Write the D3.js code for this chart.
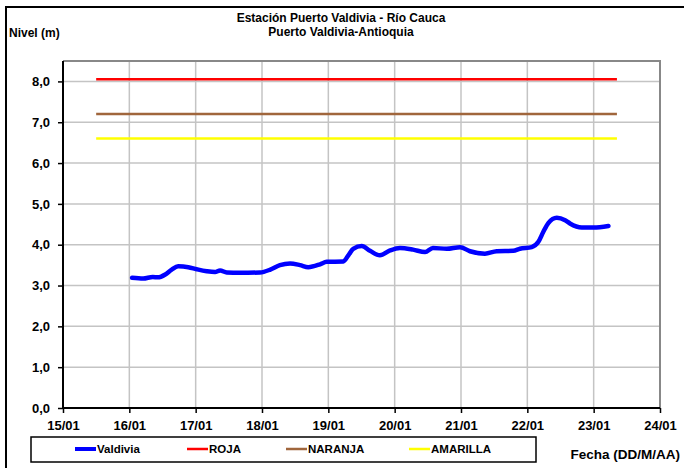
<!DOCTYPE html>
<html>
<head>
<meta charset="utf-8">
<script src="https://cdn.jsdelivr.net/npm/d3@7"></script>
<style>
  body { margin: 0; background: #fff; }
  svg { display: block; font-family: "Liberation Sans", Arial, sans-serif; font-weight: bold; }
</style>
</head>
<body>
<div id="chart"></div>
<script>
// Nivel del rio en Puerto Valdivia.
const fechas = [
  '16/01 01:00', '16/01 05:00', '16/01 08:30', '16/01 10:20', '16/01 13:00', '16/01 15:20',
  '16/01 17:40', '16/01 21:20', '17/01 00:20', '17/01 04:00', '17/01 07:00', '17/01 08:50',
  '17/01 11:15', '17/01 16:00', '17/01 23:15', '18/01 03:00', '18/01 06:30', '18/01 10:10',
  '18/01 13:45', '18/01 16:45', '18/01 21:00', '18/01 23:25', '19/01 05:25', '19/01 07:15',
  '19/01 09:00', '19/01 12:05', '19/01 15:05', '19/01 18:40', '19/01 22:20', '20/01 01:55',
  '20/01 06:40', '20/01 11:00', '20/01 13:50', '20/01 18:50', '20/01 23:40', '21/01 03:15',
  '21/01 08:40', '21/01 12:55', '21/01 18:55', '21/01 21:20', '22/01 01:35', '22/01 04:00',
  '22/01 05:45', '22/01 07:35', '22/01 10:40', '22/01 13:40', '22/01 15:25', '22/01 19:40',
  '22/01 23:55', '23/01 05:20'
];
const nivelValdivia = [
  3.19, 3.17, 3.21, 3.20, 3.27, 3.39,
  3.47, 3.45, 3.40, 3.35, 3.33, 3.37,
  3.32, 3.31, 3.32, 3.39, 3.50, 3.54,
  3.50, 3.45, 3.52, 3.58, 3.59, 3.74,
  3.90, 3.97, 3.85, 3.74, 3.86, 3.92,
  3.88, 3.82, 3.92, 3.90, 3.94, 3.84,
  3.78, 3.84, 3.85, 3.90, 3.94, 4.07,
  4.31, 4.53, 4.66, 4.60, 4.52, 4.42,
  4.42, 4.46
];

// Umbrales de alerta (lineas horizontales)
const alertas = ['ROJA', 'NARANJA', 'AMARILLA'];
const nivelAlerta = [8.05, 7.2, 6.6];
const alertaInicio = '15/01 12:00';
const alertaFin = '23/01 08:25';

const ticksX = ['15/01', '16/01', '17/01', '18/01', '19/01', '20/01', '21/01', '22/01', '23/01', '24/01'];
const ticksY = [0, 1, 2, 3, 4, 5, 6, 7, 8];

const leyenda = ['Valdivia', 'ROJA', 'NARANJA', 'AMARILLA'];
const colores = {Valdivia: '#0000ff', ROJA: '#ff0000', NARANJA: '#a0663c', AMARILLA: '#ffff00'};

const W = 684, H = 468;
const margin = {top: 61, right: 24, bottom: 60, left: 63};
const parse = d3.timeParse('%d/%m %H:%M');
const parseDia = d3.timeParse('%d/%m');

const serie = fechas.map((f, i) => ({t: parse(f), v: nivelValdivia[i]}));

const svg = d3.select('#chart').append('svg').attr('width', W).attr('height', H);

// marco exterior
svg.append('rect')
  .attr('x', 6).attr('y', 7).attr('width', W + 10).attr('height', H + 10)
  .attr('fill', 'none').attr('stroke', '#000').attr('stroke-width', 2);

const x = d3.scaleTime()
  .domain([parseDia(ticksX[0]), parseDia(ticksX[ticksX.length - 1])])
  .range([margin.left, W - margin.right]);
const y = d3.scaleLinear().domain([0, 8.5]).range([H - margin.bottom, margin.top]);

const x0 = margin.left, x1 = W - margin.right, y0 = H - margin.bottom, y1 = margin.top;

// rejilla
svg.append('g').selectAll('line.h')
  .data(ticksY.filter(d => d > 0))
  .join('line')
  .attr('x1', x0).attr('x2', x1)
  .attr('y1', d => y(d)).attr('y2', d => y(d))
  .attr('stroke', '#c4c4c4').attr('stroke-width', 1.5);
svg.append('g').selectAll('line.v')
  .data(ticksX.slice(1, -1))
  .join('line')
  .attr('x1', d => x(parseDia(d))).attr('x2', d => x(parseDia(d)))
  .attr('y1', y1).attr('y2', y0)
  .attr('stroke', '#c4c4c4').attr('stroke-width', 1.5);

// borde superior y derecho
svg.append('path')
  .attr('d', `M${x0},${y1}H${x1}V${y0}`)
  .attr('fill', 'none').attr('stroke', '#888').attr('stroke-width', 2);

// lineas de alerta
svg.append('g').selectAll('line')
  .data(alertas.map((a, i) => ({a, v: nivelAlerta[i]})))
  .join('line')
  .attr('x1', x(parse(alertaInicio))).attr('x2', x(parse(alertaFin)))
  .attr('y1', d => y(d.v)).attr('y2', d => y(d.v))
  .attr('stroke', d => colores[d.a]).attr('stroke-width', 2.5);

// serie de nivel
svg.append('path')
  .datum(serie)
  .attr('fill', 'none')
  .attr('stroke', colores.Valdivia)
  .attr('stroke-width', 4.5)
  .attr('stroke-linejoin', 'round')
  .attr('stroke-linecap', 'round')
  .attr('d', d3.line().x(d => x(d.t)).y(d => y(d.v)).curve(d3.curveMonotoneX));

// ejes
const fmtY = v => d3.format('.1f')(v).replace('.', ',');
const yAxis = svg.append('g')
  .attr('transform', `translate(${x0},0)`)
  .call(d3.axisLeft(y).tickValues(ticksY).tickFormat(fmtY).tickSize(5).tickPadding(8));
const xAxis = svg.append('g')
  .attr('transform', `translate(0,${y0})`)
  .call(d3.axisBottom(x).tickValues(ticksX.map(parseDia)).tickFormat(d3.timeFormat('%d/%m')).tickSize(5).tickPadding(8));

[yAxis, xAxis].forEach(g => {
  g.select('.domain').attr('stroke', '#000').attr('stroke-width', 2);
  g.selectAll('.tick line').attr('stroke', '#000').attr('stroke-width', 1.5);
  g.selectAll('.tick text').attr('fill', '#000').style('font-size', '13px').style('font-weight', 'bold');
});
yAxis.select('.domain').attr('d', `M0,${y0}V${y1}`);
xAxis.select('.domain').attr('d', `M${x0},0H${x1}`);

// titulos
svg.append('text').attr('x', 341).attr('y', 22).attr('text-anchor', 'middle')
  .style('font-size', '12px').text('Estación Puerto Valdivia - Río Cauca');
svg.append('text').attr('x', 341).attr('y', 36).attr('text-anchor', 'middle')
  .style('font-size', '12px').text('Puerto Valdivia-Antioquia');
svg.append('text').attr('x', 9).attr('y', 37).style('font-size', '12px').text('Nivel (m)');
svg.append('text').attr('x', 680).attr('y', 459).attr('text-anchor', 'end')
  .style('font-size', '13.5px').text('Fecha (DD/M/AA)');

// leyenda
svg.append('rect')
  .attr('x', 31).attr('y', 437).attr('width', 505).attr('height', 25)
  .attr('fill', 'none').attr('stroke', '#000').attr('stroke-width', 1.5);
const posLeyenda = [75, 187, 286, 409];
const items = svg.append('g').selectAll('g')
  .data(leyenda)
  .join('g')
  .attr('transform', (d, i) => `translate(${posLeyenda[i]},449)`);
items.append('line')
  .attr('x1', 0).attr('x2', 21)
  .attr('stroke', d => colores[d])
  .attr('stroke-width', d => d === 'Valdivia' ? 4 : 2.5);
items.append('text')
  .attr('x', 22).attr('y', 4)
  .style('font-size', '11.5px')
  .text(d => d);
</script>
</body>
</html>
